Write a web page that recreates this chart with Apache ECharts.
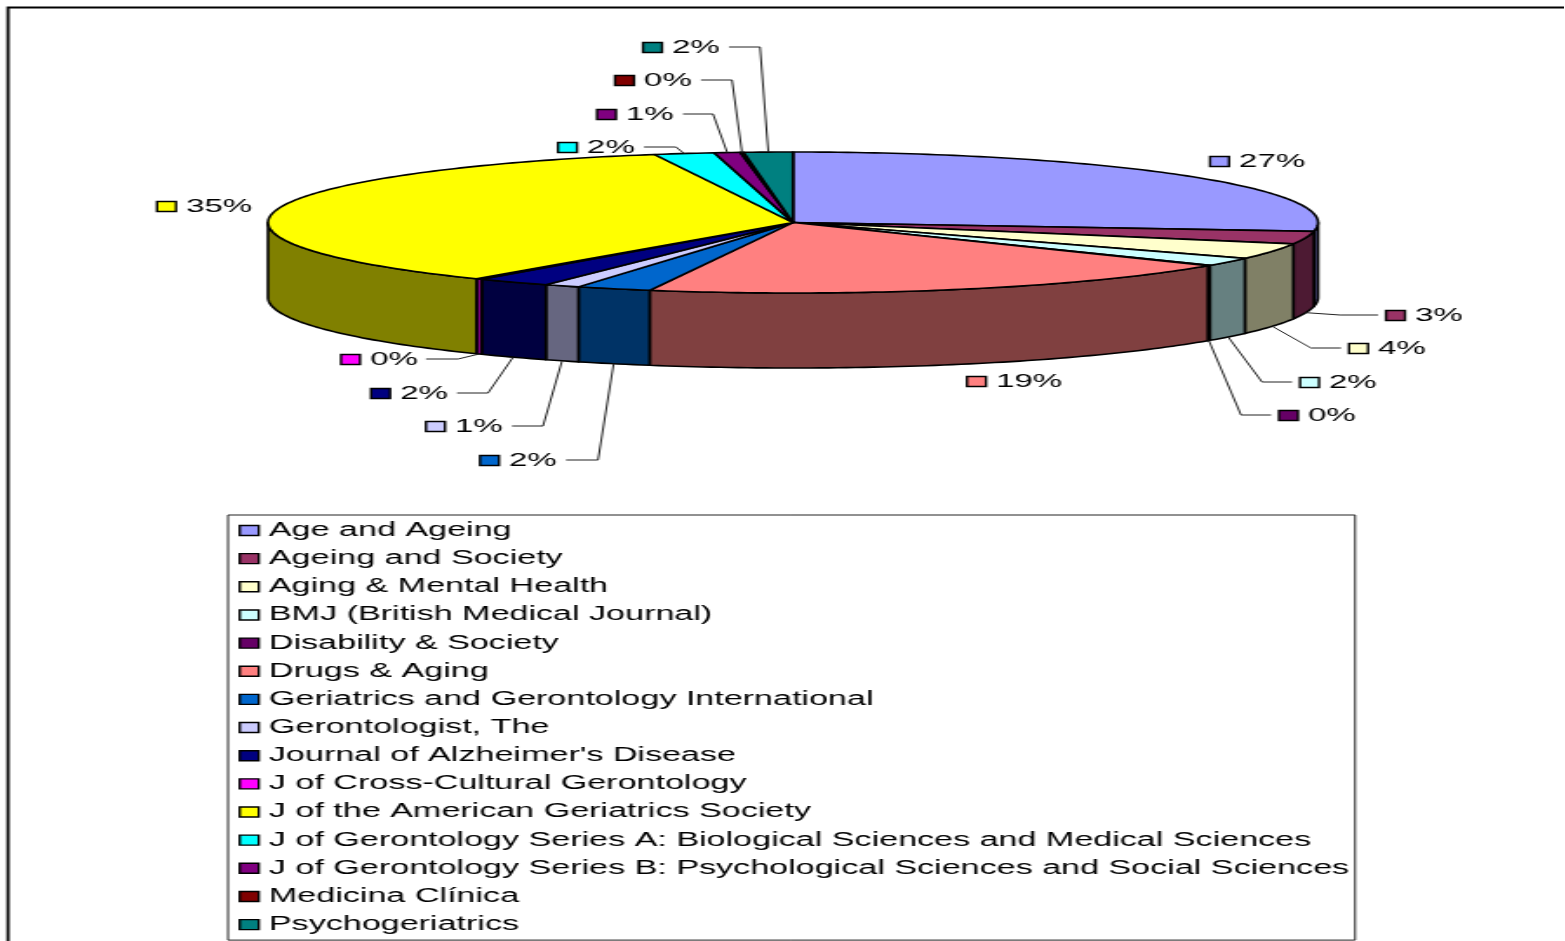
<!DOCTYPE html>
<html>
<head>
<meta charset="utf-8">
<style>
html,body{margin:0;padding:0;background:#fff;overflow:hidden;width:1565px;height:941px}
#c{height:941px;transform-origin:0 0;position:absolute;left:0;top:0}
</style>
<script src="https://cdn.jsdelivr.net/npm/echarts@6/dist/echarts.min.js"></script>
</head>
<body>
<div id="c"></div>
<script>
const journals = ['Age and Ageing','Ageing and Society','Aging & Mental Health','BMJ (British Medical Journal)','Disability & Society','Drugs & Aging','Geriatrics and Gerontology International','Gerontologist, The',"Journal of Alzheimer's Disease",'J of Cross-Cultural Gerontology','J of the American Geriatrics Society','J of Gerontology Series A: Biological Sciences and Medical Sciences','J of Gerontology Series B: Psychological Sciences and Social Sciences','Medicina Clínica','Psychogeriatrics'];
const shares = [27.0,2.9,3.6,1.9,0.1,18.9,2.3,1.1,2.3,0.2,35.45,1.85,0.8,0.1,1.5];
const topColors = ['#9999FF','#993366','#FFFFCC','#CCFFFF','#660066','#FF8080','#0066CC','#CCCCFF','#000080','#FF00FF','#FFFF00','#00FFFF','#800080','#800000','#008080'];
const wallColors = ['#4D4D80','#4D1A33','#808066','#668080','#330033','#804040','#003366','#666680','#000040','#800080','#808000','#008080','#400040','#400000','#004040'];

// Layout in reference pixels (horizontal values are divided by the stretch below)
const STRETCH = 1.74, FONT = 19, LEGEND_FONT = 19.6, FAMILY = '"Liberation Sans", Arial, sans-serif';
const PIE = {cx:793, cy:222.5, rx:525, ry:70.5, depth:75};
// key left x, row y, leader elbow x (null = no leader)
const labelKeyX = [1210,1386,1349,1300,1279,967,480,426,371,341,157,558,597,615,643];
const labelY    = [161,315,348,382,415,381,460,426,393,359,206,147,114,80,47];
const leaderStartX = [null,1378,1341,1292,1271,null,566,512,457,426,null,644,683,701,729];
const leaderElbowX = [null,1340,1311,1262,1241,null,598,543,488,458,null,676,713,732,760];

const W = 1565 / STRETCH;
const el = document.getElementById('c');
el.style.width = W + 'px';
el.style.transform = 'scaleX(' + STRETCH + ')';

const total = shares.reduce((a, b) => a + b, 0);
const sx = x => x / STRETCH;
function rim(tDeg, dy) {
  const t = tDeg * Math.PI / 180;
  return [sx(PIE.cx + PIE.rx * Math.sin(t)), PIE.cy - PIE.ry * Math.cos(t) + (dy || 0)];
}
function arcPts(a, b, dy) {
  const pts = [], n = Math.max(2, Math.ceil(Math.abs(b - a)));
  for (let i = 0; i <= n; i++) pts.push(rim(a + (b - a) * i / n, dy));
  return pts;
}
function sliceRender(i) {
  return function () {
    const before = shares.slice(0, i).reduce((a, b) => a + b, 0);
    const a = before / total * 360, b = (before + shares[i]) / total * 360;
    const children = [];
    // side wall: only the front half of the disc shows
    const wa = Math.max(a, 90), wb = Math.min(b, 270);
    if (wb > wa) {
      const up = arcPts(wa, wb, 0), down = arcPts(wb, wa, PIE.depth);
      children.push({type:'polygon', shape:{points: up.concat(down)},
        style:{fill: wallColors[i], stroke:'#000', lineWidth:1.6, lineJoin:'round'}});
    }
    // top face
    const top = [[sx(PIE.cx), PIE.cy]].concat(arcPts(a, b, 0));
    children.push({type:'polygon', shape:{points: top},
      style:{fill: topColors[i], stroke:'#000', lineWidth:1.6, lineJoin:'round'}});
    // data label: key + percent
    const y = labelY[i], kx = sx(labelKeyX[i]);
    children.push({type:'rect', shape:{x:kx, y:y-4.5, width:sx(19), height:10},
      style:{fill: topColors[i], stroke:'#000', lineWidth:1.4}, z2:20});
    children.push({type:'text', z2:20, style:{x:sx(labelKeyX[i]+29), y:y+0.8,
      text: Math.round(shares[i]/total*100) + '%', fill:'#000',
      font:'normal ' + FONT + 'px ' + FAMILY, textVerticalAlign:'middle', textAlign:'left'}});
    // leader line to the middle of the slice's outer edge
    if (leaderStartX[i] !== null) {
      const m = (a + b) / 2;
      const end = rim(m, (m > 90 && m < 270) ? PIE.depth : 0);
      children.push({type:'polyline', z2:20,
        shape:{points:[[sx(leaderStartX[i]), y],[sx(leaderElbowX[i]), y], end]},
        style:{fill:'none', stroke:'#222', lineWidth:1}});
    }
    return {type:'group', children};
  };
}
const series = journals.map((name, i) => ({
  type:'custom', name, coordinateSystem:'none', silent:true, animation:false,
  data:[[shares[i]]], itemStyle:{color: topColors[i]}, renderItem: sliceRender(i)
}));

const chart = echarts.init(el, null, {renderer:'canvas', width:W, height:941});
chart.setOption({
  animation:false,
  backgroundColor:'#fff',
  graphic:[{type:'rect', silent:true, z:-1,
    shape:{x:sx(8), y:7.5, width:W+20, height:960},
    style:{fill:'none', stroke:'#000', lineWidth:1.8}}],
  legend:{
    orient:'vertical', left:sx(228), top:515,
    data:journals, icon:'rect', itemWidth:sx(19), itemHeight:10, itemGap:8.15,
    padding:[5.5, sx(6), 5.5, sx(10.5)],
    backgroundColor:'#fff', borderColor:'#222', borderWidth:1,
    selectedMode:false,
    itemStyle:{borderColor:'#000', borderWidth:1.4},
    textStyle:{fontFamily:FAMILY, fontSize:LEGEND_FONT, color:'#000', padding:[0,0,0,sx(1.5)]}
  },
  series
});
</script>
</body>
</html>
